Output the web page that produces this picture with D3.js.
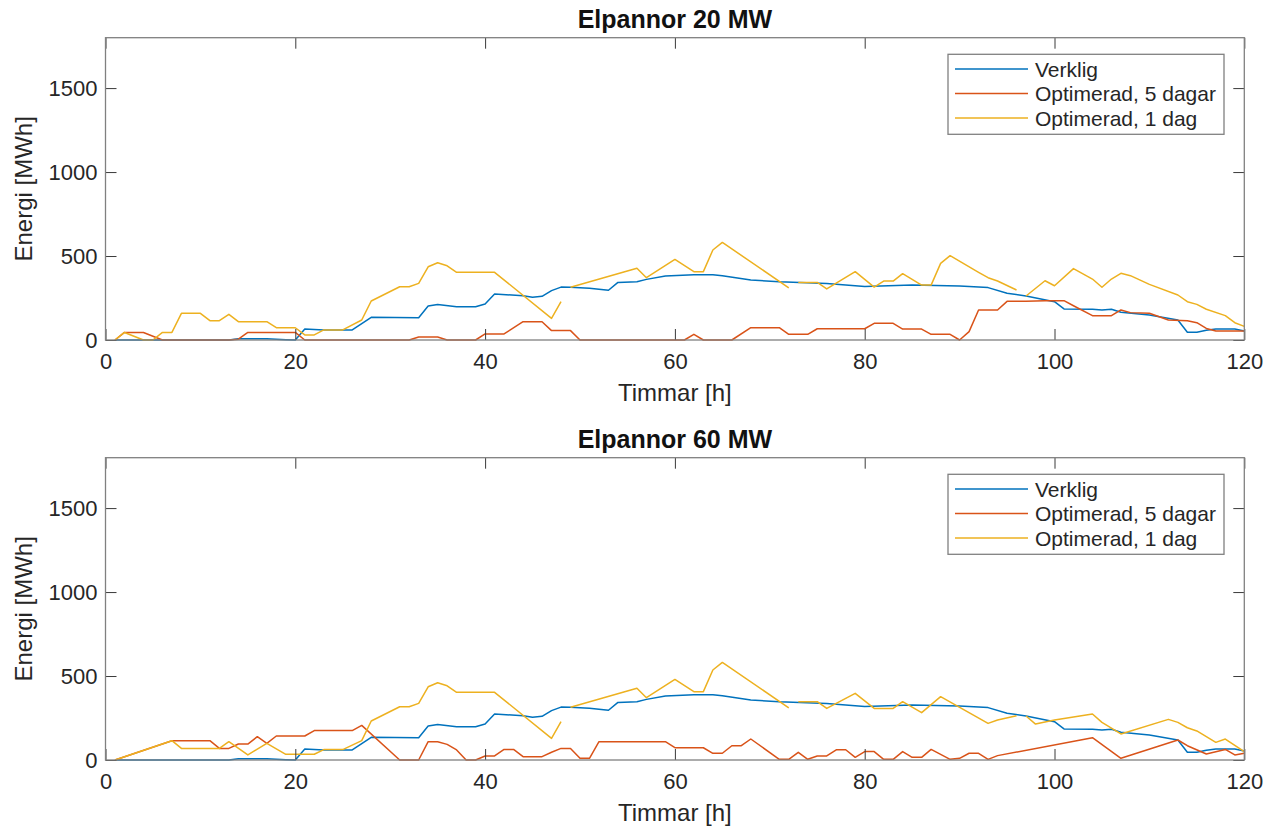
<!DOCTYPE html>
<html><head><meta charset="utf-8">
<script src="https://cdn.jsdelivr.net/npm/d3@7"></script>
<style>
body{margin:0;background:#fff}
text{font-family:"Liberation Sans",Arial,Helvetica,sans-serif;}
</style>
</head><body>
<svg id="chart" width="1273" height="826"></svg>
<script>
// ---- Data (vertices [hour, MWh]; null = break between daily optimisations) ----
const xTicks = [0, 20, 40, 60, 80, 100, 120];
const yTicks = [0, 500, 1000, 1500];
const seriesNames = ["Verklig", "Optimerad, 5 dagar", "Optimerad, 1 dag"];
const panelTitles = ["Elpannor 20 MW", "Elpannor 60 MW"];
const xLabel = "Timmar [h]";
const yLabel = "Energi [MWh]";

const verklig = [[1,0],[13,0],[14,8],[17,8],[19,2],[20,0],[21,65],[23,60],[26,60],[28,135],[33,133],[34,202],[35,212],[37,198],[39,198],[40,214],[41,274],[44,264],[45,254],[46,260],[47,294],[48,315],[49,314],[51,308],[53,296],[54,343],[56,347],[57,361],[59,381],[62,389],[64,389],[65,383],[68,357],[71,347],[76,337],[80,319],[85,327],[90,321],[93,312],[95,278],[97,262],[100,228],[101,185],[104,183],[105,179],[106,183],[107,165],[110,149],[113,119],[114,46],[115,46],[116,58],[117,65],[119,65],[120,54]];

const opt5_20 = [[1,0],[2,45],[4,45],[6,0],[13,0],[14,5],[15,45],[20,45],[21,0],[32,0],[33,18],[35,18],[36,0],[39,0],[40,36],[42,36],[44,109],[46,109],[47,56],[49,56],[50,0],[61,0],[62,34],[63,0],[66,0],[68,73],[71,73],[72,34],[74,34],[75,67],[80,67],[81,99],[83,99],[84,65],[86,65],[87,34],[89,34],[90,0],[91,50],[92,179],[94,179],[95,230],[97,230],[99,234],[101,234],[102,204],[104,145],[106,145],[107,179],[108,163],[110,159],[112,119],[114,115],[115,103],[116,69],[117,54],[120,54]];

const opt1_20 = [[1,0],[2,45],[4,0],[5,0],[6,45],[7,45],[8,159],[10,159],[11,115],[12,115],[13,153],[14,109],[17,109],[18,73],[20,73],[21,30],[22,30],[23,60],[25,60],[27,119],[28,232],[31,317],[32,317],[33,337],[34,436],[35,460],[36,442],[37,403],[41,403],[47,129],[48,228],null,[49,314],[56,427],[57,371],[60,480],[62,407],[63,407],[64,536],[65,581],[72,311],null,[73,343],[75,343],[76,304],[79,407],[81,315],[82,351],[83,351],[84,395],[86,327],[87,327],[88,456],[89,502],[92,403],[93,371],[94,351],[96,298],null,[97,262],[99,353],[100,323],[102,425],[104,363],[105,314],[106,363],[107,397],[108,383],[110,331],[113,268],[114,228],[115,212],[116,183],[118,145],[119,103],[120,81]];

const opt5_60 = [[1,0],[7,115],[11,115],[12,69],[13,69],[14,95],[15,95],[16,139],[17,99],[18,143],[21,143],[22,175],[26,175],[27,206],[31,0],[33,0],[34,109],[35,109],[36,93],[37,60],[38,0],[39,0],[40,24],[41,24],[42,63],[43,63],[44,20],[46,20],[47,46],[48,69],[49,69],[50,10],[51,10],[52,109],[59,109],[60,73],[63,73],[64,40],[65,40],[66,85],[67,85],[68,125],[71,4],[72,4],[73,46],[74,4],[75,24],[76,24],[77,61],[78,61],[79,16],[80,50],[81,50],[82,4],[83,4],[84,50],[85,16],[86,16],[87,63],[89,4],[90,10],[91,40],[92,40],[93,4],[94,26],[104,133],[107,10],[113,119],[114,85],[116,36],[118,63],[119,30],[120,40]];

const opt1_60 = [[1,0],[7,115],[8,69],[12,69],[13,109],[15,30],[17,99],[19,34],[22,34],[23,62],[25,62],[27,115],[28,232],[31,317],[32,317],[33,337],[34,436],[35,460],[36,442],[37,403],[41,403],[47,129],[48,228],null,[49,314],[56,427],[57,371],[60,480],[62,407],[63,407],[64,536],[65,581],[72,311],null,[73,347],[75,347],[76,307],[79,397],[81,307],[83,307],[84,347],[86,282],[88,377],[93,218],[94,238],[96,264],null,[97,262],[98,214],[100,238],[104,274],[105,224],[107,155],[112,242],[113,224],[114,192],[115,173],[117,105],[118,125],[120,50]];

const colors = ["#0072BD", "#D95319", "#EDB120"];

// ---- Layout ----
const svg = d3.select("#chart");
const L = 105.5, R = 1244.3;
const panels = [
  {title: panelTitles[0], top: 37.7, bottom: 340, series: [verklig, opt5_20, opt1_20]},
  {title: panelTitles[1], top: 457.7, bottom: 760, series: [verklig, opt5_60, opt1_60]}
];

panels.forEach(p => {
  const x = d3.scaleLinear().domain([0, 120]).range([L, R]);
  const y = d3.scaleLinear().domain([0, 1800]).range([p.bottom, p.top]);
  const g = svg.append("g");

  // data lines
  const line = d3.line().defined(d => d !== null).x(d => x(d[0])).y(d => y(d[1]));
  p.series.forEach((s, i) => {
    g.append("path").datum(s).attr("d", line)
      .attr("fill", "none").attr("stroke", colors[i])
      .attr("stroke-width", 1.5).attr("stroke-linejoin", "round");
  });

  // axes
  const tickCol = "#262626";
  const styleAxis = sel => {
    sel.select(".domain").remove();
    sel.selectAll(".tick line").attr("stroke", "#3a3a3a").attr("stroke-width", 1);
    sel.selectAll(".tick text").attr("fill", tickCol).style("font-size", "22px")
      .style("font-family", '"Liberation Sans", Arial, sans-serif');
  };
  g.append("g").attr("transform", `translate(0,${p.bottom})`)
    .call(d3.axisBottom(x).tickValues(xTicks).tickFormat(d3.format("d")).tickSizeInner(-11).tickSizeOuter(0).tickPadding(13))
    .call(styleAxis);
  g.append("g").attr("transform", `translate(0,${p.top})`)
    .call(d3.axisTop(x).tickValues(xTicks).tickSizeInner(-11).tickSizeOuter(0).tickFormat(""))
    .call(styleAxis);
  g.append("g").attr("transform", `translate(${L},0)`)
    .call(d3.axisLeft(y).tickValues(yTicks).tickFormat(d3.format("d")).tickSizeInner(-11).tickSizeOuter(0).tickPadding(8))
    .call(styleAxis);
  g.append("g").attr("transform", `translate(${R},0)`)
    .call(d3.axisRight(y).tickValues(yTicks).tickSizeInner(-11).tickSizeOuter(0).tickFormat(""))
    .call(styleAxis);

  // box
  g.append("rect").attr("x", L).attr("y", p.top).attr("width", R - L).attr("height", p.bottom - p.top)
    .attr("fill", "none").attr("stroke", "#808080").attr("stroke-width", 1.3);

  // title
  g.append("text").attr("x", (L + R) / 2).attr("y", p.top - 9.5).attr("text-anchor", "middle")
    .style("font-size", "25px").style("font-weight", "bold").attr("fill", "#111").text(p.title);
  // x label
  g.append("text").attr("x", (L + R) / 2).attr("y", p.bottom + 61).attr("text-anchor", "middle")
    .style("font-size", "24px").attr("fill", tickCol).text(xLabel);
  // y label
  g.append("text").attr("transform", `translate(32,${(p.top + p.bottom) / 2}) rotate(-90)`)
    .attr("text-anchor", "middle").style("font-size", "24px").attr("fill", tickCol).text(yLabel);

  // legend
  const lx = 948, ly = p.top + 16.6, lw = 276, lh = 80;
  const lg = g.append("g");
  lg.append("rect").attr("x", lx).attr("y", ly).attr("width", lw).attr("height", lh)
    .attr("fill", "#fff").attr("stroke", "#808080").attr("stroke-width", 1.3);
  seriesNames.forEach((n, i) => {
    const ry = ly + 14.7 + i * 24.5;
    lg.append("line").attr("x1", lx + 7).attr("x2", lx + 80).attr("y1", ry).attr("y2", ry)
      .attr("stroke", colors[i]).attr("stroke-width", 1.5);
    lg.append("text").attr("x", lx + 87).attr("y", ry).attr("dy", "0.36em")
      .style("font-size", "21px").attr("fill", tickCol).text(n);
  });
});
</script>
</body></html>
